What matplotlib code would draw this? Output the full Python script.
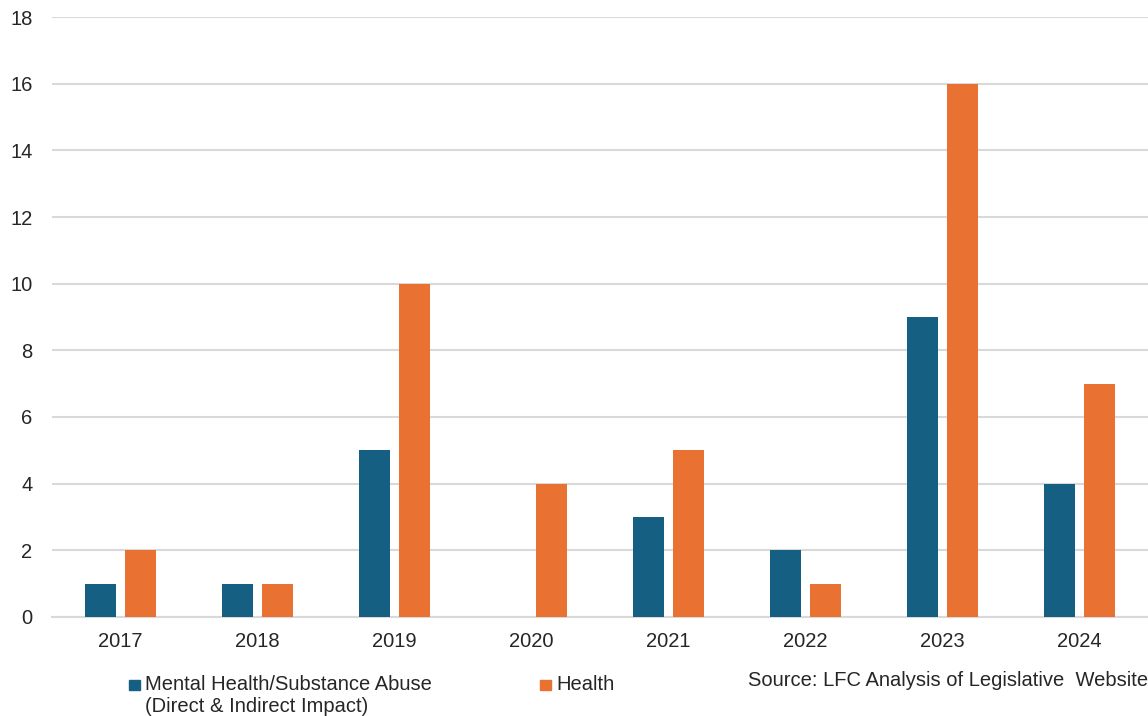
import numpy as np
import matplotlib
import matplotlib.pyplot as plt
from matplotlib.patches import Rectangle

matplotlib.use("agg")
plt.rcParams['font.family'] = ['Liberation Sans', 'DejaVu Sans']

years = ["2017", "2018", "2019", "2020", "2021", "2022", "2023", "2024"]
mental_health = [1, 1, 5, 0, 3, 2, 9, 4]
health = [2, 1, 10, 4, 5, 1, 16, 7]

blue = "#156082"
orange = "#E97132"
txt = "#262626"
fs = 14.5
W, H = 1148, 716

fig = plt.figure(figsize=(W / 100, H / 100), dpi=100)
ax = fig.add_axes([52 / W, 1 - 617 / H, 1096 / W, 600 / H])

x = np.arange(len(years))
w = 0.22
off = 0.146
ax.bar(x - off, mental_health, width=w, color=blue, zorder=3)
ax.bar(x + off, health, width=w, color=orange, zorder=3)

ax.set_xlim(-0.5, len(years) - 0.5)
ax.set_ylim(0, 18)
ax.set_yticks(range(0, 19, 2))
ax.set_xticks(x)
ax.set_xticklabels(years)
ax.tick_params(axis='both', length=0, labelsize=fs, colors=txt)
ax.tick_params(axis='x', pad=11)
ax.tick_params(axis='y', pad=14)
ax.grid(axis='y', color="#D9D9D9", linewidth=1.5, zorder=0)
for s in ["top", "right", "left"]:
    ax.spines[s].set_visible(False)
ax.spines["bottom"].set_color("#D9D9D9")
ax.spines["bottom"].set_linewidth(1.5)

# legend drawn by hand so the key lines up with the first text line
def key(px, py, color, label):
    fig.add_artist(Rectangle((px / W, 1 - (py + 10) / H), 11 / W, 10 / H,
                             transform=fig.transFigure, color=color))
    fig.text((px + 16) / W, 1 - (py + 5) / H, label, fontsize=fs, color=txt,
             va="center", ha="left", linespacing=1.1)

key(129, 680, blue, "Mental Health/Substance Abuse")
fig.text(145 / W, 1 - 706 / H, "(Direct & Indirect Impact)", fontsize=fs, color=txt,
         va="center", ha="left")
key(540, 680, orange, "Health")

fig.text(748 / W, 1 - 680 / H, "Source: LFC Analysis of Legislative  Websites",
         fontsize=fs, va="center", ha="left", color=txt)

fig.savefig("out.png", dpi=100)
plt.close()
